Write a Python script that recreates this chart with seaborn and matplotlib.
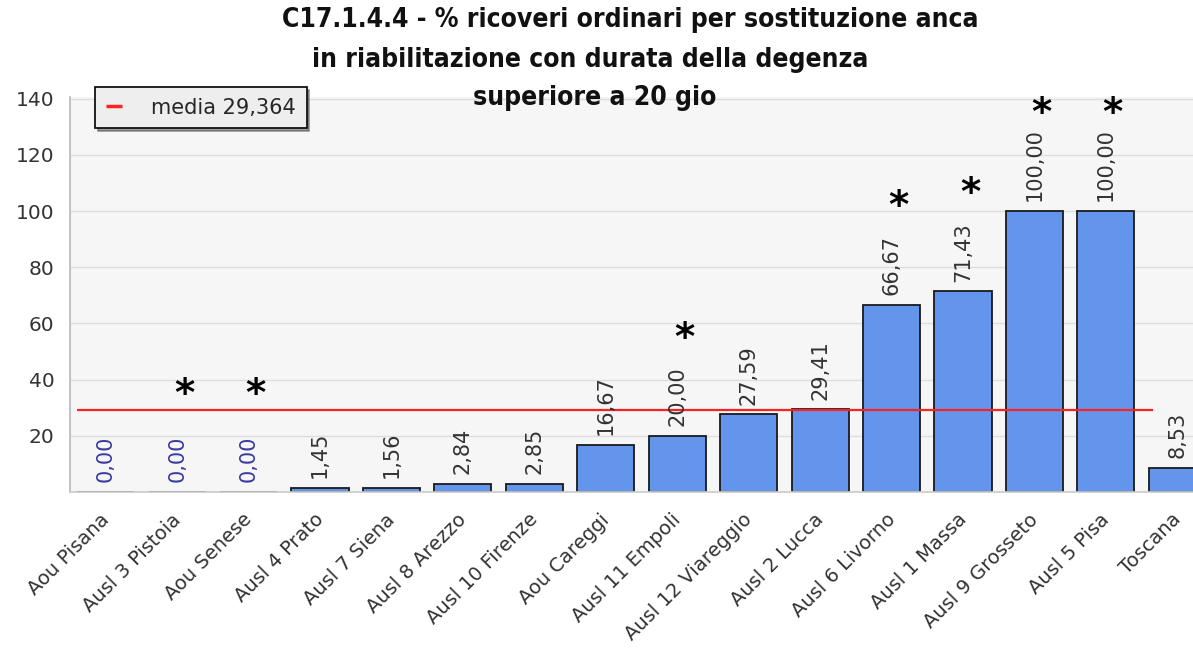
import pandas as pd
import matplotlib.pyplot as plt
import matplotlib.transforms as mtransforms
import seaborn as sns
import numpy as np

# Data
aziende = ["Aou Pisana", "Ausl 3 Pistoia", "Aou Senese", "Ausl 4 Prato", "Ausl 7 Siena",
           "Ausl 8 Arezzo", "Ausl 10 Firenze", "Aou Careggi", "Ausl 11 Empoli",
           "Ausl 12 Viareggio", "Ausl 2 Lucca", "Ausl 6 Livorno", "Ausl 1 Massa",
           "Ausl 9 Grosseto", "Ausl 5 Pisa", "Toscana"]
valori = [0.00, 0.00, 0.00, 1.45, 1.56, 2.84, 2.85, 16.67, 20.00,
          27.59, 29.41, 66.67, 71.43, 100.00, 100.00, 8.53]
asterisco = [False, True, True, False, False, False, False, False, True,
             False, False, True, True, True, True, False]
media = 29.364
titolo = ["C17.1.4.4 - % ricoveri ordinari per sostituzione anca",
          "in riabilitazione con durata della degenza",
          "superiore a 20 gio"]

df = pd.DataFrame({"azienda": aziende, "valore": valori})

sns.set_theme(style="whitegrid")
plt.rcParams["font.family"] = ["DejaVu Sans"]

fig = plt.figure(figsize=(11.93, 6.55), dpi=100)
ax = fig.add_axes([70 / 1193, 163 / 655, 1143 / 1193, 395 / 655])
ax.set_facecolor("#f6f6f6")

sns.barplot(data=df, x="azienda", y="valore", color="#6495ED", saturation=1,
            edgecolor="#1a1a1a", linewidth=1.3, width=0.8, ax=ax, zorder=2)

# linea della media
ax.hlines(media, -0.4, len(aziende) - 1.34, color="#ff2020", linewidth=1.6, zorder=3,
          label="media 29,364")

# etichette valori
for i, v in enumerate(valori):
    col = "#3a3aa0" if v == 0 else "#333333"
    ax.annotate(f"{v:.2f}".replace(".", ","), (i, v), xytext=(0, 7), textcoords="offset points",
                rotation=90, ha="center", va="bottom", fontsize=15, color=col)
    if asterisco[i]:
        ax.annotate("*", (i, v), xytext=(5, 70), textcoords="offset points",
                    ha="center", va="center", fontsize=28, fontweight="bold", color="black")

ax.set_xlim(-0.5, len(aziende) - 0.5)
ax.set_ylim(0, 140.6)
ax.set_yticks([20, 40, 60, 80, 100, 120, 140])
ax.tick_params(axis="y", labelsize=14.5, colors="#333333", length=0, pad=11)
ax.set_xticks(range(len(aziende)))
ax.set_xticklabels(aziende, rotation=45, ha="right", rotation_mode="anchor", fontsize=14,
                   color="#333333")
ax.tick_params(axis="x", length=0, pad=13)
shift = mtransforms.ScaledTranslation(-6 / 100, 0, fig.dpi_scale_trans)
for lab in ax.get_xticklabels():
    lab.set_transform(lab.get_transform() + shift)
ax.set_xticks(np.arange(0.5, len(aziende) - 0.5, 1), minor=True)
ax.tick_params(axis="x", which="minor", direction="in", length=5, color="#222222", width=1)
ax.set_xlabel("")
ax.set_ylabel("")
ax.grid(axis="x", visible=False)
ax.grid(axis="y", color="#dddddd", linewidth=1)
ax.set_axisbelow(True)
for s in ["top", "right"]:
    ax.spines[s].set_visible(False)
ax.spines["left"].set_color("#bbbbbb")
ax.spines["bottom"].set_color("#cccccc")

leg = ax.legend(loc="upper left", bbox_to_anchor=(0.022, 1.025), fontsize=15, frameon=True,
                fancybox=False, shadow=True, handlelength=0.8, borderpad=0.5,
                handletextpad=1.4, borderaxespad=0)
leg.get_frame().set_facecolor("#eeeeee")
leg.get_frame().set_edgecolor("#111111")
leg.get_frame().set_linewidth(1.3)
leg.get_frame().set_alpha(1)
for line in leg.get_lines():
    line.set_linewidth(2.5)

# titolo, tre righe come nel riferimento
for riga, (xc, yc) in zip(titolo, [(630, 20), (590, 60), (595, 98)]):
    fig.text(xc / 1193, 1 - yc / 655, riga, ha="center", va="center", fontsize=19,
             fontweight="bold", fontstretch="condensed", color="#111111")

fig.savefig("out.png", dpi=100)
